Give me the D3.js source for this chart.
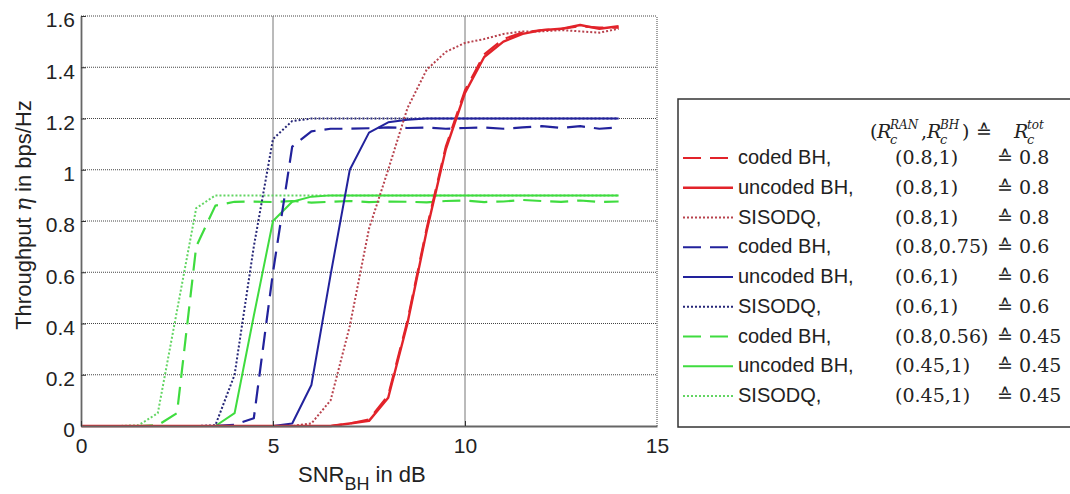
<!DOCTYPE html>
<head>
  <meta charset="utf-8">
  <title>Throughput vs SNR_BH</title>
  <script src="https://d3js.org/d3.v7.min.js"></script>
  <style>
    body { margin: 0; background: #fff; }
    text { font-family: "Liberation Sans", Arial, sans-serif; fill: #222; }
    .serif { font-family: "DejaVu Serif", serif; }
  </style>
</head>
<body>
</body>
<script>
// SNR_BH in dB (0 .. 14, 0.5 dB steps)
var snr = [0,0.5,1,1.5,2,2.5,3,3.5,4,4.5,5,5.5,6,6.5,7,7.5,8,8.5,9,9.5,10,10.5,11,11.5,12,12.5,13,13.5,14]

// throughput in bps/Hz, one array per curve
var redCoded    = [0,0,0,0,0,0,0,0,0,0,0,0,0,0,0.01,0.025,0.12,0.41,0.77,1.09,1.31,1.45,1.51,1.535,1.545,1.55,1.56,1.555,1.555]
var redUncoded  = [0,0,0,0,0,0,0,0,0,0,0,0,0,0,0.01,0.02,0.11,0.40,0.76,1.08,1.30,1.44,1.50,1.53,1.545,1.55,1.565,1.55,1.56]
var redSiso     = [0,0,0,0,0,0,0,0,0,0,0,0,0.01,0.10,0.39,0.77,1.0,1.24,1.39,1.46,1.495,1.51,1.53,1.54,1.54,1.545,1.54,1.535,1.55]
var blueCoded   = [0,0,0,0,0,0,0,0,0.005,0.03,0.6,1.09,1.15,1.16,1.16,1.162,1.165,1.163,1.165,1.16,1.163,1.165,1.16,1.165,1.17,1.163,1.17,1.16,1.165]
var blueUncoded = [0,0,0,0,0,0,0,0,0,0,0,0.01,0.16,0.59,1.0,1.145,1.185,1.195,1.2,1.2,1.2,1.2,1.2,1.2,1.2,1.2,1.2,1.2,1.2]
var blueSiso    = [0,0,0,0,0,0,0,0.003,0.2,0.7,1.12,1.19,1.2,1.2,1.2,1.2,1.2,1.2,1.2,1.2,1.2,1.2,1.2,1.2,1.2,1.2,1.2,1.2,1.2]
var greenCoded  = [0,0,0,0,0.003,0.05,0.7,0.86,0.875,0.876,0.874,0.878,0.872,0.875,0.878,0.874,0.876,0.875,0.873,0.878,0.88,0.874,0.876,0.882,0.878,0.875,0.88,0.874,0.876]
var greenUncoded= [0,0,0,0,0,0,0,0,0.05,0.43,0.8,0.875,0.895,0.9,0.9,0.9,0.9,0.9,0.9,0.9,0.9,0.9,0.9,0.9,0.9,0.9,0.9,0.9,0.9]
var greenSiso   = [0,0,0,0.003,0.05,0.45,0.85,0.9,0.9,0.9,0.9,0.9,0.9,0.9,0.9,0.9,0.9,0.9,0.9,0.9,0.9,0.9,0.9,0.9,0.9,0.9,0.9,0.9,0.9]

var legendNames = ["coded BH,","uncoded BH,","SISODQ,","coded BH,","uncoded BH,","SISODQ,","coded BH,","uncoded BH,","SISODQ,"]
var legendRates = ["(0.8,1)","(0.8,1)","(0.8,1)","(0.8,0.75)","(0.6,1)","(0.6,1)","(0.8,0.56)","(0.45,1)","(0.45,1)"]
var legendTotal = ["0.8","0.8","0.8","0.6","0.6","0.6","0.45","0.45","0.45"]

var xTicks = [0,5,10,15]
var yTicks = [0,0.2,0.4,0.6,0.8,1,1.2,1.4,1.6]

var allSeries = [redCoded, redUncoded, redSiso, blueCoded, blueUncoded, blueSiso, greenCoded, greenUncoded, greenSiso]

// styles, same order as the legend
var red = "#e2232a", blue = "#22229c", green = "#3fdc3f"
var styles = [
  {color: red,   dash: "18,9", w: 2.2},
  {color: red,   dash: null,   w: 2.4},
  {color: "#b8424d", dash: "2,2", w: 2},
  {color: blue,  dash: "18,9", w: 2.2},
  {color: blue,  dash: null,   w: 2},
  {color: "#262677", dash: "2,2", w: 2},
  {color: green, dash: "18,9", w: 2.2},
  {color: green, dash: null,   w: 2},
  {color: "#63d563", dash: "2,2", w: 2}
]

var margin = {top: 16, left: 81},
    width = 576, height = 410

var svg = d3.select("body").append("svg").attr("width", 1070).attr("height", 494)

var xScale = d3.scaleLinear().domain([0,15]).range([margin.left, margin.left + width])
var yScale = d3.scaleLinear().domain([0,1.6]).range([margin.top + height, margin.top])

// grid
var grid = svg.append("g")
grid.selectAll(".hgrid").data(yTicks.slice(1)).enter().append("line")
  .attr("x1", xScale(0)).attr("x2", xScale(15))
  .attr("y1", d => yScale(d)).attr("y2", d => yScale(d))
  .attr("stroke", "#444").attr("stroke-width", 1).attr("stroke-dasharray", "1,1")
grid.selectAll(".vgrid").data(xTicks.slice(1)).enter().append("line")
  .attr("x1", d => xScale(d)).attr("x2", d => xScale(d))
  .attr("y1", yScale(0)).attr("y2", yScale(1.6))
  .attr("stroke", d => d == 15 ? "#444" : "#777").attr("stroke-width", 1)
  .attr("stroke-dasharray", d => d == 15 ? "1,1" : null)

// curves, green drawn first so red ends on top
var line = d3.line().x((d, i) => xScale(snr[i])).y(d => yScale(d))
var plotlines = svg.append("g")
for (var k = allSeries.length - 1; k >= 0; k--) {
  plotlines.append("path").datum(allSeries[k])
    .attr("fill", "none")
    .attr("stroke", styles[k].color)
    .attr("stroke-width", styles[k].w)
    .attr("stroke-dasharray", styles[k].dash)
    .attr("stroke-linejoin", "round")
    .attr("d", line)
}

// axes
var fmt = d => d === 0 ? "0" : d3.format("~g")(d)
var yaxis = svg.append("g").attr("transform", "translate(" + margin.left + ",0)")
  .call(d3.axisLeft(yScale).tickValues(yTicks).tickFormat(fmt).tickSizeInner(-5).tickSizeOuter(0).tickPadding(6))
var xaxis = svg.append("g").attr("transform", "translate(0," + (margin.top + height) + ")")
  .call(d3.axisBottom(xScale).tickValues(xTicks).tickFormat(fmt).tickSizeInner(-5).tickSizeOuter(0).tickPadding(12))
svg.selectAll(".domain").attr("stroke", "#666").attr("stroke-width", 1.8)
svg.selectAll(".tick line").attr("stroke", "#333")
svg.selectAll(".tick text").attr("font-size", "21px").attr("font-family", "Liberation Sans, Arial, sans-serif").attr("fill", "#222")
yaxis.selectAll(".tick text").attr("dy", "0.52em")
xaxis.selectAll(".tick").filter(d => d == 15).select("line").remove()

// axis labels
var xl = svg.append("text").attr("x", 298).attr("y", 482).attr("font-size", "22px")
xl.append("tspan").text("SNR")
xl.append("tspan").attr("font-size", "18px").attr("dy", 8).text("BH")
xl.append("tspan").attr("dy", -8).text(" in dB")

var yl = svg.append("text").attr("transform", "translate(31,215) rotate(-90)")
  .attr("text-anchor", "middle").attr("font-size", "22px")
yl.append("tspan").text("Throughput  ")
yl.append("tspan").attr("font-style", "italic").attr("font-family", "DejaVu Serif, serif").text("η")
yl.append("tspan").text(" in bps/Hz")

// legend
var legend = svg.append("g")
legend.append("rect").attr("x", 678).attr("y", 99).attr("width", 420).attr("height", 328)
  .attr("fill", "#fff").attr("stroke", "#333").attr("stroke-width", 1.5)

function mathR(x, sub, sup) {
  legend.append("text").attr("class", "serif").attr("x", x).attr("y", 138).attr("font-size", "19px").attr("font-style", "italic").text("R")
  legend.append("text").attr("class", "serif").attr("x", x + 13).attr("y", 144).attr("font-size", "13px").attr("font-style", "italic").text(sub)
  legend.append("text").attr("class", "serif").attr("x", x + 13).attr("y", 129).attr("font-size", "12px").attr("font-style", "italic").text(sup)
}
legend.append("text").attr("class", "serif").attr("x", 870).attr("y", 138).attr("font-size", "19px").text("(")
mathR(877, "c", "RAN")
legend.append("text").attr("class", "serif").attr("x", 921).attr("y", 138).attr("font-size", "19px").text(",")
mathR(927, "c", "BH")
legend.append("text").attr("class", "serif").attr("x", 962).attr("y", 138).attr("font-size", "19px").text(")")
legend.append("text").attr("class", "serif").attr("x", 976).attr("y", 138).attr("font-size", "19px").text("≙")
mathR(1014, "c", "tot")

var rowY = d3.scaleLinear().domain([0, 8]).range([157, 395])
legendNames.forEach(function(name, i) {
  var y = rowY(i)
  legend.append("line").attr("x1", 683).attr("x2", 733).attr("y1", y + 1).attr("y2", y + 1)
    .attr("stroke", styles[i].color).attr("stroke-width", styles[i].w)
    .attr("stroke-dasharray", styles[i].dash)
  legend.append("text").attr("x", 738).attr("y", y + 7).attr("font-size", "20px").text(name)
  var t = legend.append("text").attr("class", "serif").attr("x", 895).attr("y", y + 7).attr("font-size", "19px").text(legendRates[i])
  var end = 895 + t.node().getComputedTextLength()
  legend.append("text").attr("class", "serif").attr("x", Math.max(997, end + 2)).attr("y", y + 7).attr("font-size", "19px")
    .text("≙ " + legendTotal[i])
})
</script>
